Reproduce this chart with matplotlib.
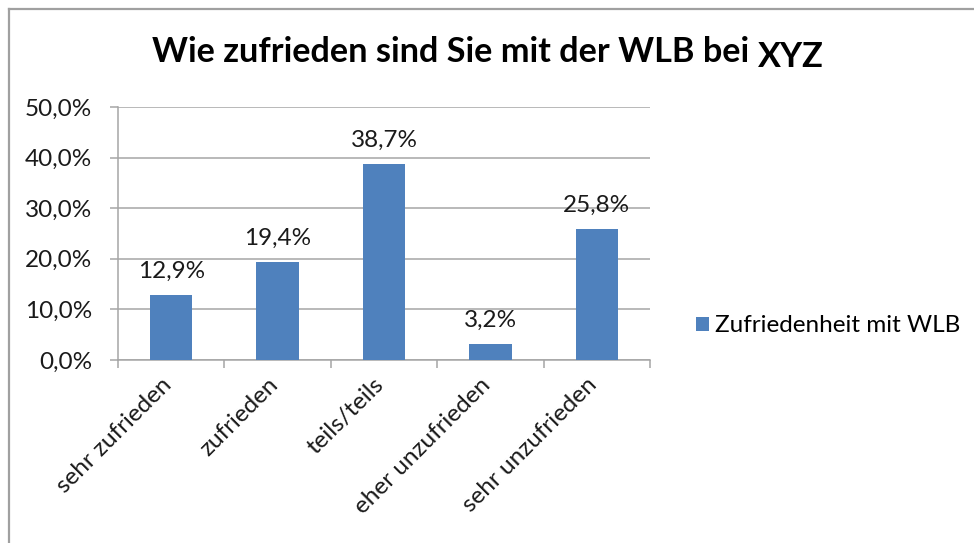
import matplotlib
matplotlib.use("Agg")
import matplotlib.pyplot as plt
from matplotlib.lines import Line2D

categories = ["sehr zufrieden", "zufrieden", "teils/teils", "eher unzufrieden", "sehr unzufrieden"]
values = [12.9, 19.4, 38.7, 3.2, 25.8]
yticks = [0, 10, 20, 30, 40, 50]
series_name = "Zufriedenheit mit WLB"
title_main = "Wie zufrieden sind Sie mit der WLB bei "
title_tail = "XYZ"

plt.rcParams['font.family'] = ['Lato', 'DejaVu Sans']

W, H = 974, 543
fig = plt.figure(figsize=(W / 100, H / 100), dpi=100)

def fx(px):
    return px / W

def fy(py):
    return 1 - py / H

# outer chart border
grey = "#a0a0a0"
fig.add_artist(Line2D([fx(9), fx(9)], [fy(9), fy(543)], color=grey, lw=1.6))
fig.add_artist(Line2D([fx(9), fx(974)], [fy(9), fy(9)], color=grey, lw=1.6))

ax = fig.add_axes([fx(118), fy(360), fx(650) - fx(118), fy(107) - fy(360)])
bar_color = "#4F81BD"
x = list(range(len(categories)))
bars = ax.bar(x, values, width=0.4, color=bar_color, zorder=3, label=series_name)

FS = 17.5
ax.set_xlim(-0.5, len(categories) - 0.5)
ax.set_ylim(0, 50)
ax.set_yticks(yticks)
ax.set_yticklabels([f"{v:.1f}%".replace(".", ",") for v in yticks], fontsize=FS, color="#1a1a1a")
ax.yaxis.grid(True, color="#a6a6a6", lw=1.1, zorder=0)
ax.tick_params(axis='y', length=5.8, width=1.1, color="#a6a6a6", pad=12.9)

# x ticks at category boundaries
ax.set_xticks([i - 0.5 for i in range(len(categories) + 1)])
ax.set_xticklabels([])
ax.tick_params(axis='x', length=5.8, width=1.1, color="#a6a6a6")
for i, c in enumerate(categories):
    ax.text(i - 0.03, -4.2, c, rotation=45, ha='right', va='center',
            rotation_mode='anchor', fontsize=FS, color="#1a1a1a")

for s in ['top', 'right']:
    ax.spines[s].set_visible(False)
for s in ['left', 'bottom']:
    ax.spines[s].set_color("#a6a6a6")
    ax.spines[s].set_linewidth(1.1)

for xi, v in zip(x, values):
    ax.text(xi, v + 2.6, f"{v:.1f}%".replace(".", ","), ha='center', va='bottom',
            fontsize=FS, color="#1a1a1a")

# legend
fig.legend(handles=[bars], labels=[series_name], loc='center left',
           bbox_to_anchor=(fx(674), fy(326)), frameon=False, fontsize=FS,
           handlelength=0.55, handleheight=0.55, handletextpad=0.25)

# title
t1 = fig.text(fx(152), fy(62), title_main, fontsize=24.7, fontweight='bold',
              ha='left', va='baseline', color='black')
fig.canvas.draw()
bb = t1.get_window_extent(renderer=fig.canvas.get_renderer())
fig.text(bb.x1 / W, fy(67), title_tail, fontsize=24.7, fontweight='bold',
         ha='left', va='baseline', color='black')

fig.savefig("out.png", dpi=100)
